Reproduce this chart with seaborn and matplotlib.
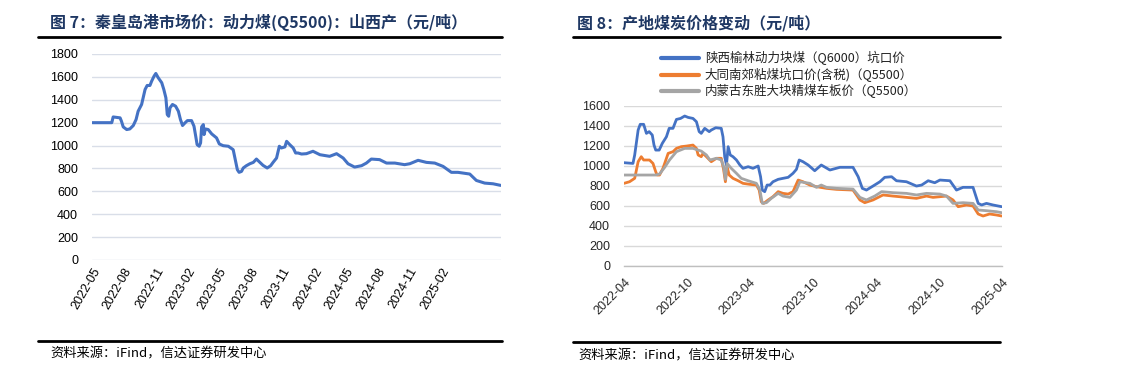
import pandas as pd
import seaborn as sns
import matplotlib.pyplot as plt
import matplotlib.dates as mdates
from matplotlib.lines import Line2D

# ---- data: left chart (秦皇岛港 山西产 Q5500) ----
qhd_dates = ['2022-05-02', '2022-06-27', '2022-07-01', '2022-07-21', '2022-07-25', '2022-07-30',
             '2022-08-09', '2022-08-18', '2022-08-28', '2022-09-05', '2022-09-11', '2022-09-21',
             '2022-10-01', '2022-10-07', '2022-10-15', '2022-10-20', '2022-10-27', '2022-11-01',
             '2022-11-08', '2022-11-18', '2022-11-24', '2022-11-30', '2022-12-04', '2022-12-08',
             '2022-12-12', '2022-12-19', '2022-12-28', '2023-01-05', '2023-01-11', '2023-01-17',
             '2023-01-24', '2023-01-31', '2023-02-12', '2023-02-19', '2023-02-24', '2023-02-28',
             '2023-03-06', '2023-03-10', '2023-03-13', '2023-03-18', '2023-03-20', '2023-03-24',
             '2023-04-01', '2023-04-11', '2023-04-25', '2023-05-03', '2023-05-14', '2023-05-29',
             '2023-06-12', '2023-06-19', '2023-06-24', '2023-06-29', '2023-07-06', '2023-07-11',
             '2023-07-20', '2023-07-30', '2023-08-09', '2023-08-18', '2023-08-28', '2023-09-06',
             '2023-09-18', '2023-09-28', '2023-10-05', '2023-10-15', '2023-10-23', '2023-10-29',
             '2023-11-08', '2023-11-13', '2023-11-22', '2023-12-02', '2023-12-09', '2023-12-16',
             '2023-12-26', '2024-01-09', '2024-01-28', '2024-02-17', '2024-03-16', '2024-04-05',
             '2024-04-24', '2024-05-08', '2024-05-27', '2024-06-16', '2024-06-30', '2024-07-14',
             '2024-08-07', '2024-08-27', '2024-09-20', '2024-10-18', '2024-11-02', '2024-11-26',
             '2024-12-20', '2025-01-13', '2025-02-06', '2025-03-02', '2025-03-21', '2025-04-24',
             '2025-05-13', '2025-06-06', '2025-06-30', '2025-07-22']
qhd_price = [1200, 1200, 1250, 1242, 1212, 1163,
             1140, 1145, 1175, 1227, 1300, 1359,
             1490, 1525, 1525, 1563, 1607, 1630,
             1592, 1549, 1490, 1417, 1271, 1256,
             1330, 1359, 1344, 1300, 1227, 1175,
             1198, 1218, 1218, 1169, 1081, 1008,
             994, 1023, 1163, 1183, 1096, 1145,
             1140, 1102, 1067, 1014, 999, 994,
             964, 862, 789, 766, 774, 804,
             824, 841, 853, 882, 853, 827,
             804, 824, 853, 891, 994, 979,
             988, 1037, 1008, 979, 935, 935,
             926, 929, 950, 920, 906, 929,
             891, 841, 812, 824, 847, 882,
             877, 847, 847, 833, 841, 871,
             853, 847, 818, 766, 766, 751,
             695, 672, 666, 652]
qhd_ticks = ['2022-05', '2022-08', '2022-11', '2023-02', '2023-05', '2023-08',
             '2023-11', '2024-02', '2024-05', '2024-08', '2024-11', '2025-02']

# ---- data: right chart (产地煤炭价格) ----
yl_dates = ['2022-04-01', '2022-04-27', '2022-05-02', '2022-05-12', '2022-05-18', '2022-05-28',
            '2022-06-05', '2022-06-13', '2022-06-22', '2022-06-27', '2022-07-02', '2022-07-12',
            '2022-07-21', '2022-08-02', '2022-08-10', '2022-08-21', '2022-08-31', '2022-09-12',
            '2022-09-24', '2022-10-04', '2022-10-18', '2022-10-28', '2022-11-05', '2022-11-11',
            '2022-11-21', '2022-12-04', '2022-12-10', '2022-12-23', '2023-01-08', '2023-01-13',
            '2023-01-18', '2023-01-23', '2023-01-28', '2023-02-03', '2023-02-11', '2023-02-21',
            '2023-03-03', '2023-03-12', '2023-03-27', '2023-04-10', '2023-04-25', '2023-05-02',
            '2023-05-07', '2023-05-14', '2023-05-21', '2023-05-29', '2023-06-07', '2023-06-22',
            '2023-07-06', '2023-07-21', '2023-08-04', '2023-08-14', '2023-08-22', '2023-09-02',
            '2023-09-17', '2023-10-06', '2023-10-25', '2023-11-19', '2023-12-18', '2024-01-25',
            '2024-02-09', '2024-02-21', '2024-03-04', '2024-03-23', '2024-04-12', '2024-04-26',
            '2024-05-16', '2024-05-30', '2024-06-28', '2024-07-27', '2024-08-11', '2024-08-30',
            '2024-09-18', '2024-10-03', '2024-11-01', '2024-11-20', '2024-12-09', '2025-01-07',
            '2025-01-22', '2025-02-01', '2025-02-15', '2025-03-06', '2025-03-31']
yl_price = [1031, 1024, 1108, 1357, 1414, 1414,
            1324, 1341, 1307, 1207, 1157, 1157,
            1224, 1290, 1374, 1374, 1463, 1473,
            1497, 1483, 1473, 1440, 1341, 1324,
            1374, 1341, 1357, 1380, 1374, 1290,
            1091, 1008, 1191, 1108, 1091, 1058,
            1008, 975, 991, 975, 998, 891,
            758, 742, 808, 808, 841, 865,
            875, 885, 925, 965, 1058, 1041,
            1008, 951, 1008, 958, 985, 985,
            891, 775, 758, 798, 841, 885,
            891, 851, 841, 798, 808, 851,
            831, 858, 851, 758, 785, 785,
            625, 609, 625, 609, 592]

dt_dates = ['2022-04-01', '2022-04-17', '2022-05-02', '2022-05-12', '2022-05-21', '2022-05-28',
            '2022-06-14', '2022-06-24', '2022-07-02', '2022-07-06', '2022-07-13', '2022-07-23',
            '2022-08-07', '2022-08-21', '2022-08-31', '2022-09-14', '2022-09-29', '2022-10-18',
            '2022-10-28', '2022-11-02', '2022-11-11', '2022-11-16', '2022-11-26', '2022-12-10',
            '2022-12-25', '2023-01-08', '2023-01-15', '2023-01-20', '2023-01-25', '2023-01-31',
            '2023-02-11', '2023-02-26', '2023-03-12', '2023-04-01', '2023-04-20', '2023-04-28',
            '2023-05-04', '2023-05-11', '2023-05-24', '2023-06-07', '2023-06-22', '2023-07-06',
            '2023-07-21', '2023-08-04', '2023-08-19', '2023-09-02', '2023-09-22', '2023-10-11',
            '2023-11-09', '2023-12-08', '2024-01-25', '2024-02-14', '2024-02-28', '2024-03-23',
            '2024-04-21', '2024-05-20', '2024-06-28', '2024-07-27', '2024-08-25', '2024-09-13',
            '2024-10-22', '2024-11-10', '2024-11-25', '2024-12-19', '2025-01-07', '2025-01-22',
            '2025-02-05', '2025-02-24', '2025-03-16', '2025-03-31']
dt_price = [825, 841, 875, 1041, 1091, 1058,
            1058, 1024, 941, 908, 908, 975,
            1124, 1141, 1174, 1191, 1197, 1207,
            1174, 1108, 1091, 1124, 1091, 1041,
            1075, 1075, 958, 841, 991, 908,
            875, 851, 825, 815, 808, 758,
            642, 625, 659, 692, 742, 725,
            718, 742, 858, 841, 808, 792,
            775, 765, 758, 659, 632, 659,
            709, 698, 685, 675, 698, 685,
            698, 659, 592, 609, 599, 519,
            499, 519, 509, 499]

ds_dates = ['2022-04-01', '2022-07-02', '2022-07-13', '2022-07-28', '2022-08-11', '2022-08-31',
            '2022-09-24', '2022-10-18', '2022-11-02', '2022-11-11', '2022-11-26', '2022-12-06',
            '2022-12-25', '2023-01-08', '2023-01-15', '2023-01-20', '2023-01-25', '2023-02-06',
            '2023-02-21', '2023-03-07', '2023-03-27', '2023-04-20', '2023-04-30', '2023-05-07',
            '2023-05-19', '2023-06-02', '2023-06-22', '2023-07-06', '2023-07-26', '2023-08-14',
            '2023-08-24', '2023-09-22', '2023-10-11', '2023-10-25', '2023-11-09', '2023-12-08',
            '2024-01-25', '2024-02-14', '2024-03-04', '2024-03-28', '2024-04-17', '2024-05-20',
            '2024-06-28', '2024-07-27', '2024-08-25', '2024-10-03', '2024-10-22', '2024-11-10',
            '2024-12-09', '2025-01-07', '2025-01-22', '2025-02-15', '2025-03-16', '2025-03-31']
ds_price = [908, 908, 918, 985, 1058, 1141,
            1174, 1174, 1157, 1147, 1108, 1058,
            1075, 1058, 991, 865, 1024, 975,
            925, 875, 851, 825, 758, 625,
            632, 675, 725, 698, 685, 758,
            841, 825, 785, 808, 785, 775,
            768, 685, 659, 698, 742, 732,
            725, 709, 725, 718, 698, 625,
            632, 625, 559, 552, 542, 532]

src_ticks = ['2022-04', '2022-10', '2023-04', '2023-10', '2024-04', '2024-10', '2025-04']
src_names = ['陕西榆林动力块煤（Q6000）坑口价', '大同南郊粘煤坑口价(含税)（Q5500）',
             '内蒙古东胜大块精煤车板价（Q5500）']
src_colors = ['#4472C4', '#ED7D31', '#A5A5A5']

sns.set_theme(style='white')
plt.rcParams['font.family'] = ['Liberation Sans', 'Noto Sans CJK SC', 'DejaVu Sans']
cjk = ['Noto Sans CJK SC', 'DejaVu Sans']

W, H = 1137, 368
fig = plt.figure(figsize=(W / 100, H / 100), dpi=100)


def fx(px):
    return px / W


def fy(py):
    return 1 - py / H


# ---- left chart ----
ax1 = fig.add_axes([fx(92), fy(260), fx(501) - fx(92), fy(54) - fy(260)])
df1 = pd.DataFrame({'date': pd.to_datetime(qhd_dates), 'price': qhd_price})
sns.lineplot(data=df1, x='date', y='price', ax=ax1, color='#4472C4', linewidth=2.2)
ax1.set_xlim(pd.Timestamp('2022-05-01'), pd.Timestamp('2025-07-23'))
ax1.set_ylim(0, 1800)
ax1.set_yticks(range(0, 1801, 200))
ax1.set_xticks(pd.to_datetime([t + '-01' for t in qhd_ticks]))
ax1.set_xticklabels(qhd_ticks, rotation=60, ha='right', rotation_mode='anchor')
ax1.grid(axis='y', color='#D9DEE8', linewidth=1.0)
ax1.set_axisbelow(True)
for s in ax1.spines.values():
    s.set_visible(False)
ax1.tick_params(axis='both', length=0, labelsize=9, colors='#000000')
ax1.tick_params(axis='y', pad=10)
ax1.tick_params(axis='x', pad=4)
ax1.set_xlabel('')
ax1.set_ylabel('')

# ---- right chart ----
ax2 = fig.add_axes([fx(624), fy(266), fx(1002) - fx(624), fy(105.7) - fy(266)])
series = [(yl_dates, yl_price), (dt_dates, dt_price), (ds_dates, ds_price)]
frames = []
for name, (d, p) in zip(src_names, series):
    frames.append(pd.DataFrame({'date': pd.to_datetime(d), 'price': p, 'name': name}))
df2 = pd.concat(frames)
sns.lineplot(data=df2, x='date', y='price', hue='name', hue_order=src_names,
             palette=src_colors, ax=ax2, linewidth=2.0, legend=False)
ax2.set_xlim(pd.Timestamp('2022-04-01'), pd.Timestamp('2025-04-01'))
ax2.set_ylim(0, 1600)
ax2.set_yticks(range(0, 1601, 200))
ax2.set_xticks(pd.to_datetime([t + '-01' for t in src_ticks]))
ax2.set_xticklabels(src_ticks, rotation=45, ha='right', rotation_mode='anchor')
ax2.grid(axis='y', color='#D9D9D9', linewidth=1.0)
ax2.set_axisbelow(True)
for k, s in ax2.spines.items():
    s.set_visible(k == 'bottom')
ax2.spines['bottom'].set_color('#BFBFBF')
ax2.spines['bottom'].set_linewidth(1.0)
ax2.tick_params(axis='x', length=4, width=1.0, color='#BFBFBF', labelsize=9, pad=3)
ax2.tick_params(axis='y', length=0, labelsize=9, pad=10)
ax2.set_xlabel('')
ax2.set_ylabel('')

handles = [Line2D([0], [0], color=c, linewidth=3) for c in src_colors]
leg = fig.legend(handles, src_names, loc='upper left',
                 bbox_to_anchor=(fx(661), fy(51)), frameon=False,
                 prop={'family': cjk, 'size': 9}, handlelength=3.0,
                 handletextpad=0.5, labelspacing=0.2, borderpad=0, borderaxespad=0)
for t in leg.get_texts():
    t.set_color('#222222')

# ---- titles, rules and sources ----
title_color = '#1F3864'
fig.text(fx(50), fy(22), '图 7：秦皇岛港市场价：动力煤(Q5500)：山西产（元/吨）',
         family=cjk, fontsize=11.5, fontweight='bold', color=title_color, va='center')
fig.text(fx(577), fy(23), '图 8：产地煤炭价格变动（元/吨）',
         family=cjk, fontsize=11.5, fontweight='bold', color=title_color, va='center')

for x0, x1, y in [(38, 502, 36.5), (573, 1000, 37)]:
    fig.add_artist(Line2D([fx(x0), fx(x1)], [fy(y), fy(y)], color='black', linewidth=2.0))
for x0, x1, y in [(38, 502, 341), (573, 1000, 342)]:
    fig.add_artist(Line2D([fx(x0), fx(x1)], [fy(y), fy(y)], color='black', linewidth=2.0))

fig.text(fx(50), fy(354), '资料来源：iFind，信达证券研发中心', family=cjk,
         fontsize=9.5, style='italic', color='#000000', va='center')
fig.text(fx(578), fy(356), '资料来源：iFind，信达证券研发中心', family=cjk,
         fontsize=9.5, style='italic', color='#000000', va='center')

fig.savefig('out.png', dpi=100)
